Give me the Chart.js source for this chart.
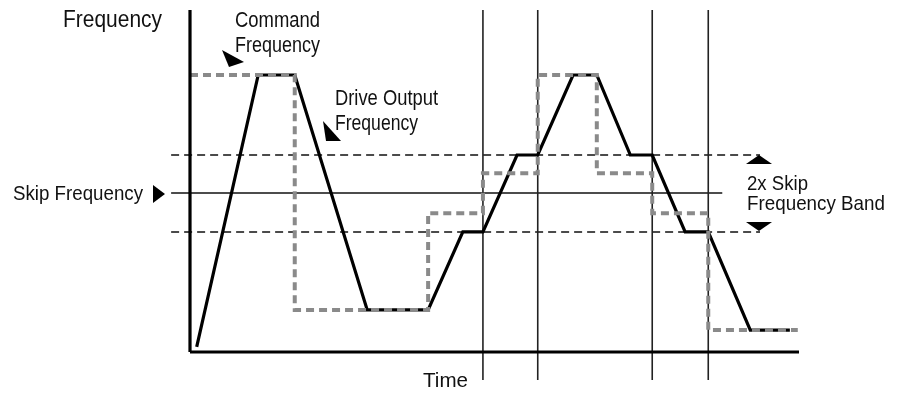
<!DOCTYPE html>
<html>
<head>
<meta charset="utf-8">
<script src="https://cdn.jsdelivr.net/npm/chart.js@4"></script>
<style>
  html, body { margin: 0; padding: 0; background: #fff; }
  #wrap { position: relative; width: 901px; height: 394px; }
</style>
</head>
<body>
<div id="wrap"><canvas id="c"></canvas></div>
<script>
// ---- Data (time and frequency in relative units) ----
const driveTime = [1.1, 11.2, 17.2, 29.1, 39.1, 44.8, 48.1, 53.7, 57.1, 62.9, 66.8, 72.3, 75.9, 81.3, 85.1, 92.0, 98.5];
const driveFreq = [1.5, 81.0, 81.0, 12.3, 12.3, 35.1, 35.1, 57.6, 57.6, 81.0, 81.0, 57.6, 57.6, 35.1, 35.1, 6.4, 6.4];

const commandTime = [0, 17.2, 39.1, 48.1, 57.1, 66.8, 75.9, 85.1, 99.8];
const commandFreq = [81.0, 12.3, 40.6, 52.3, 81.0, 52.3, 40.6, 6.4, 6.4];

const skipFreq = 46.5;
const bandUpper = 57.6;
const bandLower = 35.1;
const refLineStart = -3.1;
const bandLineEnd = 93.6;
const skipLineEnd = 87.4;

const markerTimes = [48.1, 57.1, 75.9, 85.1];
const markerTop = 100;
const markerBottom = -8.2;

const axisTimeMax = 100;
const axisFreqMax = 100;

const labels = {
  yTitle: 'Frequency',
  xTitle: 'Time',
  command: ['Command', 'Frequency'],
  drive: ['Drive Output', 'Frequency'],
  skip: 'Skip Frequency',
  band: ['2x Skip', 'Frequency Band']
};

// ---- Build datasets ----
const pts = (xs, ys) => xs.map((x, i) => ({ x: x, y: ys[i] }));
const lineDs = (data, color, width, dash, extra) => Object.assign({
  data: data, showLine: true, borderColor: color, borderWidth: width,
  borderDash: dash || [], pointRadius: 0, fill: false, clip: false, tension: 0
}, extra || {});

const datasets = [];
// reference band lines
datasets.push(lineDs(pts([refLineStart, bandLineEnd], [bandUpper, bandUpper]), '#111', 1.6, [8, 5]));
datasets.push(lineDs(pts([refLineStart, bandLineEnd], [bandLower, bandLower]), '#111', 1.6, [8, 5]));
datasets.push(lineDs(pts([refLineStart, skipLineEnd], [skipFreq, skipFreq]), '#111', 1.6));
// vertical time markers
markerTimes.forEach(t => datasets.push(lineDs(pts([t, t], [markerTop, markerBottom]), '#222', 1.6)));
// drive output frequency
datasets.push(lineDs(pts(driveTime, driveFreq), '#000', 3.2, [], { borderJoinStyle: 'miter' }));
// command frequency (stepped, gray dashed: horizontal first, then vertical), drawn over the drive line
datasets.push(lineDs(pts(commandTime, commandFreq), '#8a8a8a', 4, [8, 5], { stepped: 'before' }));
// axes
datasets.push(lineDs(pts([0, 0], [axisFreqMax, 0]), '#000', 3.2));
datasets.push(lineDs(pts([0, axisTimeMax], [0, 0]), '#000', 3.2));

// Chart.js draws lower-index datasets on top; reverse order so later entries are on top
datasets.forEach((d, i) => { d.order = datasets.length - i; });

// ---- Annotation plugin ----
function drawText(ctx, text, x, y, size, width) {
  ctx.save();
  ctx.font = size + 'px "Liberation Sans", Arial, sans-serif';
  const w = ctx.measureText(text).width;
  ctx.translate(x, y);
  ctx.scale(width / w, 1);
  ctx.fillStyle = '#111';
  ctx.textBaseline = 'alphabetic';
  ctx.fillText(text, 0, 0);
  ctx.restore();
}
function tri(ctx, p) {
  ctx.save();
  ctx.fillStyle = '#000';
  ctx.beginPath();
  ctx.moveTo(p[0][0], p[0][1]);
  ctx.lineTo(p[1][0], p[1][1]);
  ctx.lineTo(p[2][0], p[2][1]);
  ctx.closePath();
  ctx.fill();
  ctx.restore();
}
const annot = {
  id: 'annot',
  afterDraw(chart) {
    const ctx = chart.ctx;
    const ys = chart.scales.y;
    const ySkip = ys.getPixelForValue(skipFreq);
    const yUp = ys.getPixelForValue(bandUpper);
    const yLo = ys.getPixelForValue(bandLower);

    drawText(ctx, labels.yTitle, 63, 27, 23, 99);
    drawText(ctx, labels.command[0], 235, 27, 22, 85);
    drawText(ctx, labels.command[1], 235, 52, 22, 85);
    tri(ctx, [[222, 50], [229, 67], [244, 62]]);

    drawText(ctx, labels.drive[0], 335, 105, 22, 103);
    drawText(ctx, labels.drive[1], 335, 130, 22, 83);
    tri(ctx, [[323, 121], [326, 141], [341, 141]]);

    drawText(ctx, labels.skip, 13, ySkip + 7, 21, 130);
    tri(ctx, [[153, ySkip - 8], [153, ySkip + 10], [165, ySkip + 1]]);

    tri(ctx, [[759, yUp], [746, yUp + 9], [772, yUp + 9]]);
    tri(ctx, [[759, yLo - 1], [746, yLo - 10], [772, yLo - 10]]);
    drawText(ctx, labels.band[0], 747, 190, 20, 61);
    drawText(ctx, labels.band[1], 747, 210, 21, 138);

    drawText(ctx, labels.xTitle, 423, 387, 21, 45);
  }
};

new Chart(document.getElementById('c'), {
  type: 'scatter',
  data: { datasets: datasets },
  options: {
    responsive: true,
    maintainAspectRatio: false,
    animation: false,
    layout: { padding: { left: 190, right: 102, top: 10, bottom: 42 } },
    plugins: { legend: { display: false }, tooltip: { enabled: false } },
    scales: {
      x: { type: 'linear', display: false, min: 0, max: axisTimeMax },
      y: { type: 'linear', display: false, min: 0, max: axisFreqMax }
    }
  },
  plugins: [annot]
});
</script>
</body>
</html>
